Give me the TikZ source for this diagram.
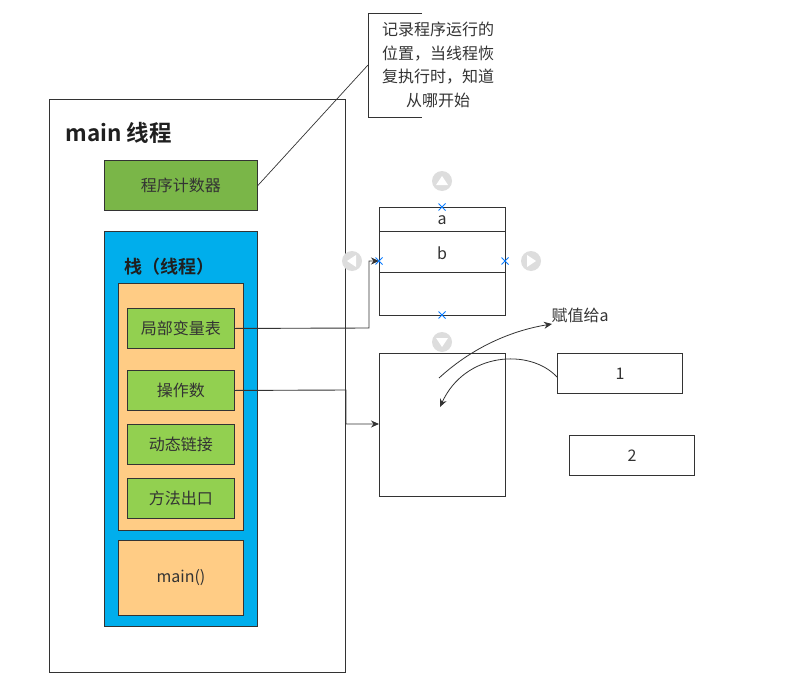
\documentclass[tikz,border=0pt]{standalone}
\usepackage{fontspec}
\setmainfont{Noto Sans CJK SC}[BoldFont={Noto Sans CJK SC Bold}]
\usetikzlibrary{arrows.meta,calc}
\definecolor{ln}{HTML}{333333}
\definecolor{pcgreen}{HTML}{7AB648}
\definecolor{lgreen}{HTML}{92D050}
\definecolor{stackblue}{HTML}{00AEEC}
\definecolor{orangef}{HTML}{FFCC85}
\definecolor{mark}{HTML}{0A7CFF}
\definecolor{hint}{HTML}{DDDDDD}
\tikzset{
  box/.style={draw=ln, line width=0.9pt, inner sep=0pt},
  lbl/.style={font=\fontsize{16}{18}\selectfont, text=ln},
  conn/.style={draw=ln, line width=0.9pt},
  tip/.style={-{Stealth[length=8pt,width=7pt]}},
  xmark/.style={draw=mark, line width=1pt},
  hintc/.style={fill=hint, draw=none},
}
\begin{document}
\begin{tikzpicture}[x=1pt,y=-1pt]
\useasboundingbox (0,0) rectangle (786,682);
% main thread
\node[box, fill=white, minimum width=296pt, minimum height=573pt, anchor=north west] (mainth) at (49,99) {};
\node[anchor=west, font=\bfseries\fontsize{22.5}{24}\selectfont, text=black!88] (mainlbl) at (62,133) {main 线程};
% program counter
\node[box, fill=pcgreen, minimum width=153pt, minimum height=50pt, anchor=north west, lbl] (pc) at (104,160) {程序计数器};
% stack
\node[box, fill=stackblue, minimum width=153pt, minimum height=395pt, anchor=north west] (stack) at (104,231) {};
\node[anchor=west, font=\bfseries\fontsize{18}{20}\selectfont, text=black!88] (stacklbl) at (121,267) {栈（线程）};
\node[box, fill=orangef, minimum width=125pt, minimum height=247pt, anchor=north west] (frame) at (118,283) {};
\node[box, fill=lgreen, minimum width=107pt, minimum height=40pt, anchor=north west, lbl] (lv) at (127,308) {局部变量表};
\node[box, fill=lgreen, minimum width=107pt, minimum height=40pt, anchor=north west, lbl] (op) at (127,370) {操作数};
\node[box, fill=lgreen, minimum width=107pt, minimum height=40pt, anchor=north west, lbl] (dl) at (127,424) {动态链接};
\node[box, fill=lgreen, minimum width=107pt, minimum height=40pt, anchor=north west, lbl] (me) at (127,478) {方法出口};
\node[box, fill=orangef, minimum width=125pt, minimum height=75pt, anchor=north west, lbl] (mainf) at (118,540) {main()};
% callout
\coordinate (cTR) at (422,13);
\coordinate (cTL) at (368,13);
\coordinate (cBL) at (368,117);
\coordinate (cBR) at (422,117);
\draw[conn] (cTR) -- (cTL) -- (cBL) -- (cBR);
\node[lbl, align=center, font=\fontsize{16}{23.5}\selectfont] (note) at (438,65) {记录程序运行的\\位置，当线程恢\\复执行时，知道\\从哪开始};
\coordinate (cAnchor) at (368,65);
\draw[draw=ln, line width=0.7pt] (cAnchor) -- (pc.east);
% struct table
\node[box, fill=white, minimum width=126pt, minimum height=108pt, anchor=north west] (tbl) at (379,207) {};
\coordinate (d1l) at (379,231); \coordinate (d1r) at (505,231);
\coordinate (d2l) at (379,272); \coordinate (d2r) at (505,272);
\draw[conn] (d1l) -- (d1r) (d2l) -- (d2r);
\node[lbl] (fa) at (442,220) {a};
\node[lbl] (fb) at (442,253) {b};
% object box
\node[box, fill=white, minimum width=126pt, minimum height=143pt, anchor=north west] (obj) at (379,353) {};
\node[box, fill=white, minimum width=125pt, minimum height=40pt, anchor=north west, lbl] (one) at (557,353) {1};
\node[box, fill=white, minimum width=125pt, minimum height=40pt, anchor=north west, lbl] (two) at (569,435) {2};
% connectors
\coordinate (tblL) at (379,261);
\draw[conn, tip] (lv.east) -- (369,328) |- (tblL);
\coordinate (objL) at (379,424);
\draw[conn, tip] (op.east) -- (346,390) |- (objL);
% curved arrows
\node[lbl, anchor=west] (assign) at (548,315) {赋值给a};
\coordinate (s1) at (439,378);
\coordinate (e1) at (552,324);
\draw[draw=ln, line width=0.8pt, tip] (s1) .. controls (475,345) and (515,330) .. (e1);
\coordinate (s2) at (557,377);
\coordinate (e2) at (440,407);
\draw[draw=ln, line width=0.8pt, tip] (s2) .. controls (530,348) and (465,352) .. (e2);
% editor hints: blue x marks
\foreach \p/\n in {{442,207}/xa,{379,261}/xb,{505,261}/xc,{442,315}/xd}{
  \coordinate (\n) at (\p);
  \draw[xmark] ($(\n)+(-3.5,-3.5)$) -- ($(\n)+(3.5,3.5)$) ($(\n)+(-3.5,3.5)$) -- ($(\n)+(3.5,-3.5)$);
}
% gray hint circles with triangles
\node[circle, hintc, minimum size=20pt] (hu) at (442,181) {};
\fill[white] (436,185) -- (448,185) -- (442,176) -- cycle;
\node[circle, hintc, minimum size=20pt] (hl) at (352,261) {};
\fill[white] (356,255) -- (356,267) -- (347,261) -- cycle;
\node[circle, hintc, minimum size=20pt] (hr) at (531,261) {};
\fill[white] (527,255) -- (527,267) -- (536,261) -- cycle;
\node[circle, hintc, minimum size=20pt] (hd) at (442,342) {};
\fill[white] (436,338) -- (448,338) -- (442,347) -- cycle;
\end{tikzpicture}
\end{document}
